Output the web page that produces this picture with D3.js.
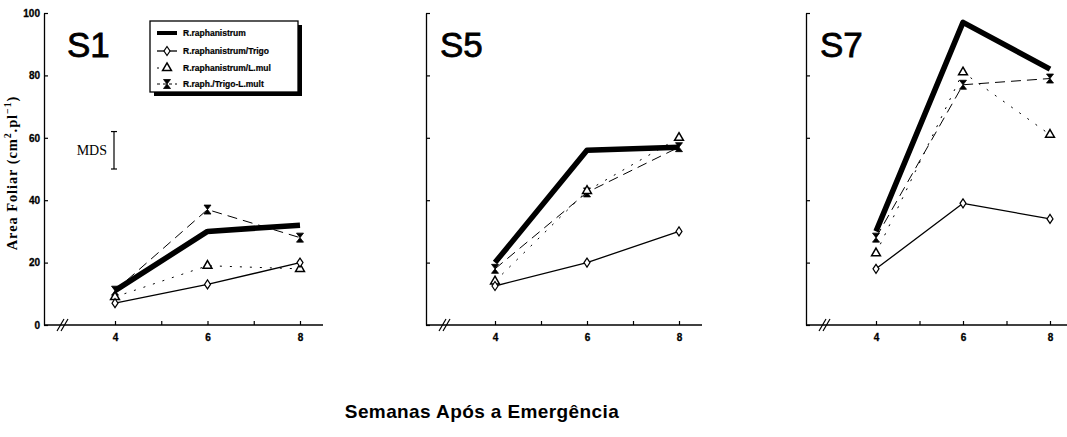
<!DOCTYPE html>
<html>
<head>
<meta charset="utf-8">
<script src="https://cdn.jsdelivr.net/npm/d3@7"></script>
<style>
  body { margin: 0; background: #fff; }
  svg { display: block; }
</style>
</head>
<body>
<div id="chart"></div>
<script>
// data (cm2 per plant), one entry per panel
const panels = ["S1", "S5", "S7"];
const weeks = [4, 6, 8];
const raphanistrum = [[11, 30, 32], [20, 56, 57], [30, 97, 82]];
const raphTrigo = [[7, 13, 20], [12.5, 20, 30], [18, 39, 34]];
const raphLmul = [[9, 19, 18], [14, 43, 60], [23, 81, 61]];
const raphTrigoLmult = [[11, 37, 28], [18, 42.5, 57], [28, 77, 79]];
const yTicks = [0, 20, 40, 60, 80, 100];
const xTicks = [4, 5, 6, 7, 8];
const mds = [50, 62];
const legendLabels = ["R.raphanistrum", "R.raphanistrum/Trigo", "R.raphanistrum/L.mul", "R.raph./Trigo-L.mult"];

const width = 1067, height = 437;
const svg = d3.select("#chart").append("svg")
    .attr("width", width)
    .attr("height", height);

// panel geometry
const axisX = [44, 426, 806];
const xRange = [[115, 300], [495, 679], [876, 1050]];
const axisEnd = [323, 702, 1067];
const titleX = [67, 440, 820];

const y = d3.scaleLinear().domain([0, 100]).range([325, 13]);

const series = [
    {key: "mix", values: raphTrigoLmult, width: 1, dash: "10,6"},
    {key: "lmul", values: raphLmul, width: 1, dash: "2,8"},
    {key: "trigo", values: raphTrigo, width: 1.3, dash: null},
    {key: "raph", values: raphanistrum, width: 5.5, dash: null}
];

const hourglass = "M-3.5,-4.5H3.5L-3.5,4.5H3.5Z";
const diamond = "M0,-4.5L3,0L0,4.5L-3,0Z";
const triangle = d3.symbol(d3.symbolTriangle, 34)();

function drawMarker(sel, key) {
    if (key === "trigo") {
        sel.append("path").attr("d", diamond)
            .attr("fill", "#fff").attr("stroke", "#000").attr("stroke-width", 1.2);
    } else if (key === "lmul") {
        sel.append("path").attr("d", triangle)
            .attr("fill", "#fff").attr("stroke", "#000").attr("stroke-width", 1.5);
    } else if (key === "mix") {
        sel.append("path").attr("d", hourglass)
            .attr("fill", "#000").attr("stroke", "#000").attr("stroke-width", 0.8);
    }
}

panels.forEach((name, p) => {
    const g = svg.append("g");
    const x = d3.scaleLinear().domain([4, 8]).range(xRange[p]);

    // y axis, ticks pointing inward
    const yAxis = d3.axisLeft(y)
        .tickValues(yTicks)
        .tickSizeInner(-4)
        .tickSizeOuter(0)
        .tickPadding(6)
        .tickFormat(p === 0 ? d3.format("d") : "");
    const ya = g.append("g")
        .attr("transform", `translate(${axisX[p]},0)`)
        .call(yAxis);
    ya.select(".domain").attr("stroke-width", 1.3);
    ya.selectAll(".tick line").attr("stroke-width", 1.2);
    ya.selectAll("text")
        .attr("font-family", "Liberation Sans, Arial, sans-serif")
        .attr("font-weight", "bold")
        .attr("font-size", 10)
        .attr("stroke", "#000").attr("stroke-width", 0.3)
        .attr("x", -4);

    // x axis
    const xAxis = d3.axisBottom(x)
        .tickValues(xTicks)
        .tickSizeInner(-4)
        .tickSizeOuter(0)
        .tickPadding(9)
        .tickFormat(d => d % 2 === 0 ? d : "");
    const xa = g.append("g")
        .attr("transform", `translate(0,${y(0)})`)
        .call(xAxis);
    xa.select(".domain").remove();
    xa.selectAll(".tick line").attr("stroke-width", 1.2);
    xa.selectAll("text")
        .attr("font-family", "Liberation Sans, Arial, sans-serif")
        .attr("font-weight", "bold")
        .attr("font-size", 10)
        .attr("stroke", "#000").attr("stroke-width", 0.3);
    g.append("line")
        .attr("x1", axisX[p]).attr("x2", axisEnd[p])
        .attr("y1", y(0)).attr("y2", y(0))
        .attr("stroke", "#000").attr("stroke-width", 1.3);

    // axis break
    const bx = axisX[p] + 17;
    [0, 4].forEach(o => {
        g.append("line")
            .attr("x1", bx + o - 4).attr("y1", y(0) + 6)
            .attr("x2", bx + o + 3).attr("y2", y(0) - 6)
            .attr("stroke", "#000").attr("stroke-width", 1.2);
    });

    // panel title
    g.append("text")
        .attr("x", titleX[p]).attr("y", 57)
        .attr("font-family", "Liberation Sans, Arial, sans-serif")
        .attr("font-size", 35)
        .attr("stroke", "#000").attr("stroke-width", 0.8)
        .text(name);

    // lines
    const line = d3.line()
        .x((d, i) => x(weeks[i]))
        .y(d => y(d));
    series.forEach(s => {
        g.append("path")
            .datum(s.values[p])
            .attr("d", line)
            .attr("fill", "none")
            .attr("stroke", "#000")
            .attr("stroke-width", s.width)
            .attr("stroke-linejoin", "round")
            .attr("stroke-dasharray", s.dash);
    });

    // markers
    series.forEach(s => {
        s.values[p].forEach((v, i) => {
            const m = g.append("g").attr("transform", `translate(${x(weeks[i])},${y(v)})`);
            drawMarker(m, s.key);
        });
    });
});

// MDS bar in the first panel
const mdsX = 114;
const mg = svg.append("g").attr("stroke", "#000").attr("stroke-width", 1.2);
mg.append("line").attr("x1", mdsX).attr("x2", mdsX).attr("y1", y(mds[0])).attr("y2", y(mds[1]));
mg.append("line").attr("x1", mdsX - 3).attr("x2", mdsX + 3).attr("y1", y(mds[0])).attr("y2", y(mds[0]));
mg.append("line").attr("x1", mdsX - 3).attr("x2", mdsX + 3).attr("y1", y(mds[1])).attr("y2", y(mds[1]));
svg.append("text")
    .attr("x", mdsX - 7).attr("y", (y(mds[0]) + y(mds[1])) / 2 + 5)
    .attr("text-anchor", "end")
    .attr("font-family", "Liberation Serif, Times New Roman, serif")
    .attr("font-size", 14)
    .text("MDS");

// legend
const lg = svg.append("g");
lg.append("rect").attr("x", 154).attr("y", 25).attr("width", 148).attr("height", 71).attr("fill", "#000");
lg.append("rect").attr("x", 150).attr("y", 21).attr("width", 148).attr("height", 71)
    .attr("fill", "#fff").attr("stroke", "#000").attr("stroke-width", 1.3);
const legendRows = [33, 51, 68, 84];
const legendOrder = ["raph", "trigo", "lmul", "mix"];
legendOrder.forEach((key, i) => {
    const s = series.find(d => d.key === key);
    const ly = legendRows[i];
    lg.append("line")
        .attr("x1", 157).attr("x2", 177).attr("y1", ly).attr("y2", ly)
        .attr("stroke", "#000").attr("stroke-width", key === "raph" ? 4 : s.width)
        .attr("stroke-dasharray", key === "mix" ? "3,3" : key === "lmul" ? "2,9" : null);
    const m = lg.append("g").attr("transform", `translate(167,${ly})`);
    drawMarker(m, key);
    lg.append("text")
        .attr("x", 183).attr("y", ly + 3)
        .attr("font-family", "Liberation Sans, Arial, sans-serif")
        .attr("font-weight", "bold")
        .attr("font-size", 8.5)
        .attr("stroke", "#000").attr("stroke-width", 0.2)
        .text(legendLabels[i]);
});

// y axis title
const yt = svg.append("text")
    .attr("transform", "translate(17,173) rotate(-90)")
    .attr("text-anchor", "middle")
    .attr("font-family", "Liberation Serif, Times New Roman, serif")
    .attr("font-weight", "bold")
    .attr("font-size", 14.5)
    .attr("letter-spacing", 0.9);
yt.append("tspan").text("Area Foliar (cm");
yt.append("tspan").attr("dy", -6).attr("font-size", 10).text("2");
yt.append("tspan").attr("dy", 6).text(".pl");
yt.append("tspan").attr("dy", -6).attr("font-size", 10).text("−1");
yt.append("tspan").attr("dy", 6).text(")");

// x axis title
svg.append("text")
    .attr("x", 482).attr("y", 418)
    .attr("text-anchor", "middle")
    .attr("font-family", "Liberation Sans, Arial, sans-serif")
    .attr("font-weight", "bold")
    .attr("font-size", 19)
    .attr("letter-spacing", 0.4)
    .text("Semanas Após a Emergência");
</script>
</body>
</html>
